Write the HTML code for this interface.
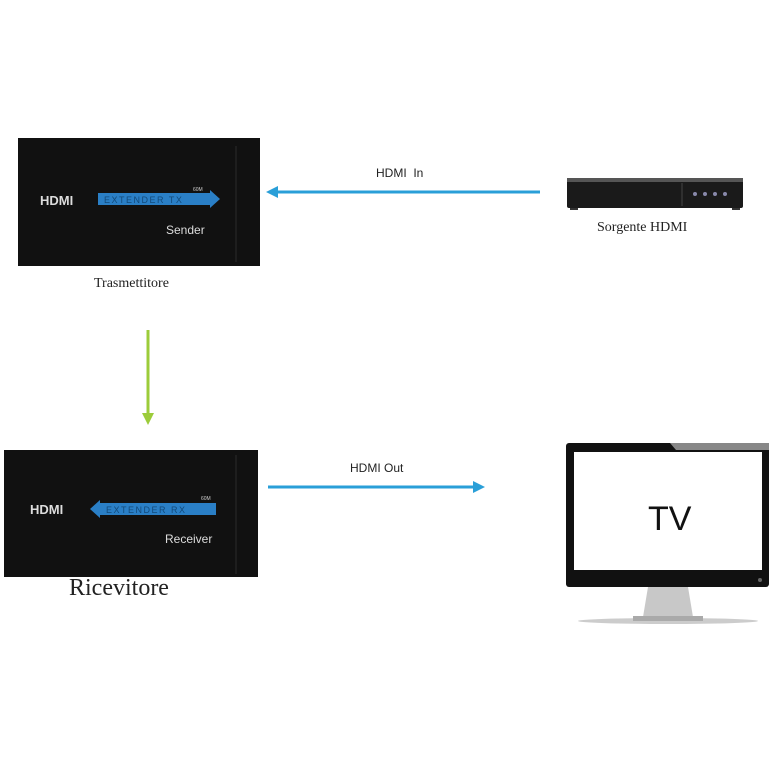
<!DOCTYPE html>
<html><head><style>
body{margin:0;width:776px;height:768px;background:#fff;position:relative;overflow:hidden;font-family:"Liberation Sans",sans-serif}
.a{position:absolute}
.serif{font-family:"Liberation Serif",serif;color:#222}
</style></head><body>
<svg class="a" style="left:0;top:0" width="776" height="768">
<!-- Sender -->
<rect x="18" y="138" width="242" height="128" fill="#111"/>
<line x1="236" y1="146" x2="236" y2="262" stroke="#2a2a2a" stroke-width="1"/>
<text x="40" y="205" fill="#ddd" font-family="Liberation Sans" font-weight="bold" font-size="13">HDMI</text>
<polygon points="98,193 210,193 210,190 220,199 210,208 210,205 98,205" fill="#2a7fc6"/>
<text x="104" y="203" fill="#124a7a" font-size="9" letter-spacing="1.5">EXTENDER TX</text>
<text x="193" y="191" fill="#ccc" font-size="5">60M</text>
<text x="166" y="234" fill="#ddd" font-size="12">Sender</text>
<!-- Receiver -->
<rect x="4" y="450" width="254" height="127" fill="#111"/>
<line x1="236" y1="455" x2="236" y2="574" stroke="#2a2a2a" stroke-width="1"/>
<text x="30" y="514" fill="#ddd" font-family="Liberation Sans" font-weight="bold" font-size="13">HDMI</text>
<polygon points="90,509 100,500 100,503 216,503 216,515 100,515 100,518" fill="#2a7fc6"/>
<text x="106" y="513" fill="#124a7a" font-size="9" letter-spacing="1.5">EXTENDER RX</text>
<text x="201" y="500" fill="#ccc" font-size="5">60M</text>
<text x="165" y="543" fill="#ddd" font-size="12">Receiver</text>
<!-- arrows -->
<line x1="275" y1="192" x2="540" y2="192" stroke="#2a9fd8" stroke-width="3"/>
<polygon points="266,192 278,186 278,198" fill="#2a9fd8"/>
<line x1="268" y1="487" x2="475" y2="487" stroke="#2a9fd8" stroke-width="3"/>
<polygon points="485,487 473,481 473,493" fill="#2a9fd8"/>
<line x1="148" y1="330" x2="148" y2="415" stroke="#9ccc3a" stroke-width="3"/>
<polygon points="148,425 142,413 154,413" fill="#9ccc3a"/>
<!-- DVD -->
<rect x="567" y="178" width="176" height="30" rx="2" fill="#1a1a1a"/>
<rect x="567" y="178" width="176" height="4" fill="#555"/>
<line x1="682" y1="183" x2="682" y2="206" stroke="#444"/>
<circle cx="695" cy="194" r="2" fill="#88a"/><circle cx="705" cy="194" r="2" fill="#88a"/><circle cx="715" cy="194" r="2" fill="#88a"/><circle cx="725" cy="194" r="2" fill="#88a"/>
<rect x="570" y="208" width="8" height="2" fill="#333"/><rect x="732" y="208" width="8" height="2" fill="#333"/>
<!-- TV -->
<rect x="566" y="443" width="203" height="144" rx="3" fill="#111"/>
<polygon points="670,443 769,443 769,450 676,450" fill="#888"/>
<rect x="574" y="452" width="188" height="118" fill="#fff"/>
<circle cx="760" cy="580" r="2" fill="#666"/>
<polygon points="648,587 688,587 693,617 643,617" fill="#c8c8c8"/>
<ellipse cx="668" cy="621" rx="90" ry="3" fill="#ccc"/>
<rect x="633" y="616" width="70" height="5" fill="#aaa"/>
<text x="648" y="530" fill="#111" font-size="34">TV</text>
</svg>
<div class="a" style="left:376px;top:166px;font-size:12px;color:#222">HDMI&nbsp; In</div>
<div class="a" style="left:350px;top:461px;font-size:12px;color:#222">HDMI Out</div>
<div class="a serif" style="left:94px;top:276px;font-size:14px">Trasmettitore</div>
<div class="a serif" style="left:597px;top:220px;font-size:14px">Sorgente HDMI</div>
<div class="a serif" style="left:69px;top:575px;font-size:24px">Ricevitore</div>
</body></html>
